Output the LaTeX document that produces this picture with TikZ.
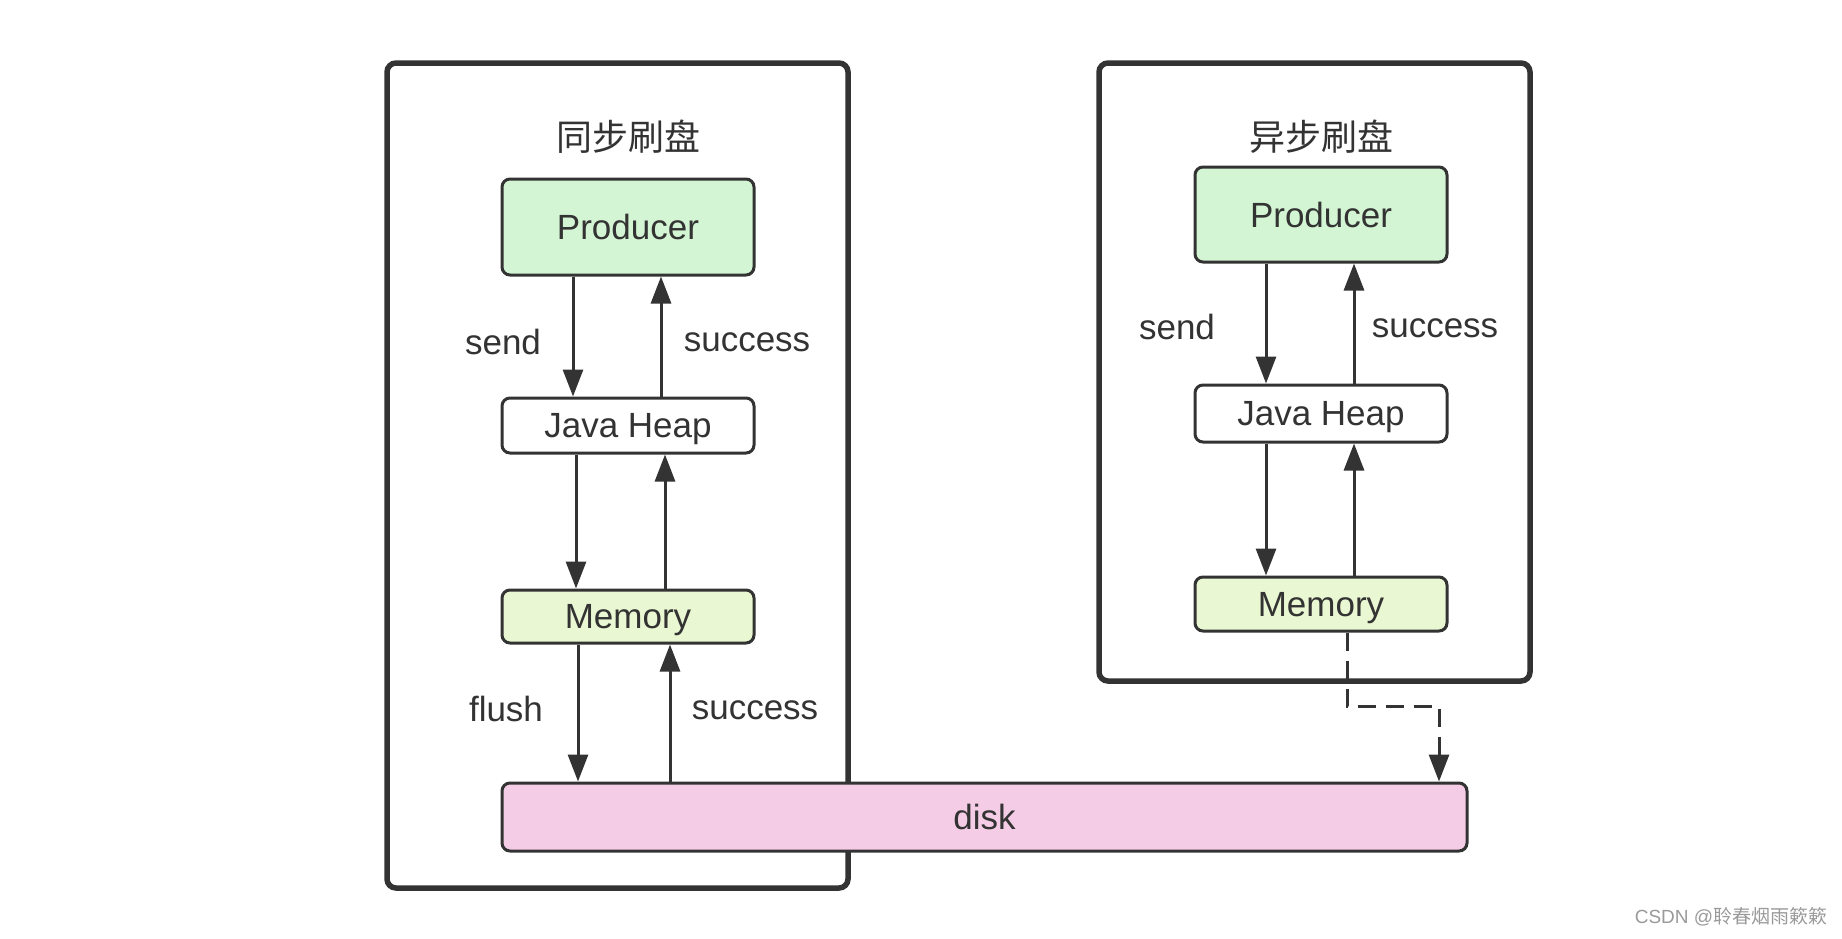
\documentclass[tikz,border=0pt]{standalone}
\usepackage{fontspec}
\setmainfont{Liberation Sans}
\newfontfamily\cjk{Noto Sans CJK SC}
\usetikzlibrary{arrows.meta}
\definecolor{ink}{HTML}{333333}
\definecolor{prodfill}{HTML}{D3F5D3}
\definecolor{memfill}{HTML}{E9F8D2}
\definecolor{diskfill}{HTML}{F5CCE6}
\definecolor{wm}{HTML}{9A9A9A}
\begin{document}
\begin{tikzpicture}[x=1pt,y=-1pt,
  outer/.style={draw=ink, line width=5.5pt, rounded corners=9pt},
  box/.style={draw=ink, line width=3pt, rounded corners=8pt, minimum width=252pt, inner sep=0pt, text depth=0pt, text=ink, font=\fontsize{35}{42}\selectfont},
  arr/.style={draw=ink, line width=3pt, -{Triangle[length=27pt,width=20pt]}},
  dasharr/.style={draw=ink, line width=3pt, dash pattern=on 18pt off 10pt, -{Triangle[length=27pt,width=20pt]}},
  lbl/.style={text=ink, font=\fontsize{35}{42}\selectfont, inner sep=0pt},
  ttl/.style={text=ink, font=\cjk\fontsize{36}{42}\selectfont, inner sep=0pt}
]
\fill[white] (0,0) rectangle (1842,938);
\useasboundingbox (0,0) rectangle (1842,938);

% outer frames
\draw[outer] (387,63) rectangle (848,888);
\draw[outer] (1099,63) rectangle (1530,681);

% titles
\node[ttl] (tL) at (628,137) {同步刷盘};
\node[ttl] (tR) at (1321,137) {异步刷盘};

% left column
\node[box, fill=prodfill, minimum height=96pt] (prodL) at (628,227) {Producer};
\node[box, fill=white, minimum height=55pt] (heapL) at (628,425.5) {Java Heap};
\node[box, fill=memfill, minimum height=53pt] (memL) at (628,616.5) {Memory};

% right column
\node[box, fill=prodfill, minimum height=95pt] (prodR) at (1321,214.5) {Producer};
\node[box, fill=white, minimum height=57pt] (heapR) at (1321,413.5) {Java Heap};
\node[box, fill=memfill, minimum height=54pt] (memR) at (1321,604) {Memory};

% disk
\node[box, fill=diskfill, minimum width=965pt, minimum height=68pt] (disk) at (984.5,817) {disk};

% left arrows
\draw[arr] ([xshift=-55pt]prodL.south) -- ([xshift=-55pt]heapL.north);
\draw[arr] ([xshift=33pt]heapL.north) -- ([xshift=33pt]prodL.south);
\draw[arr] ([xshift=-52pt]heapL.south) -- ([xshift=-52pt]memL.north);
\draw[arr] ([xshift=37pt]memL.north) -- ([xshift=37pt]heapL.south);
\draw[arr] ([xshift=-50pt]memL.south) -- ([xshift=-50pt]memL.south |- disk.north);
\draw[arr] ([xshift=42pt]memL.south |- disk.north) -- ([xshift=42pt]memL.south);

% right arrows
\draw[arr] ([xshift=-55pt]prodR.south) -- ([xshift=-55pt]heapR.north);
\draw[arr] ([xshift=33pt]heapR.north) -- ([xshift=33pt]prodR.south);
\draw[arr] ([xshift=-55pt]heapR.south) -- ([xshift=-55pt]memR.north);
\draw[arr] ([xshift=33pt]memR.north) -- ([xshift=33pt]heapR.south);

% dashed async flush
\coordinate (bend) at (1439,706);
\draw[dasharr] ([xshift=26pt]memR.south) |- (bend) -- (bend |- disk.north);

% labels
\node[lbl] (sendL) at (503,342) {send};
\node[lbl] (succL1) at (747,342) {success};
\node[lbl] (flushL) at (506,709) {flush};
\node[lbl] (succL2) at (755,710) {success};
\node[lbl] (sendR) at (1177,327) {send};
\node[lbl] (succR) at (1435,328) {success};

% watermark
\node[text=wm, inner sep=0pt, font=\fontsize{19}{23}\selectfont] (wmk) at (1731,917) {CSDN @{\cjk 聆春烟雨簌簌}};
\end{tikzpicture}
\end{document}
